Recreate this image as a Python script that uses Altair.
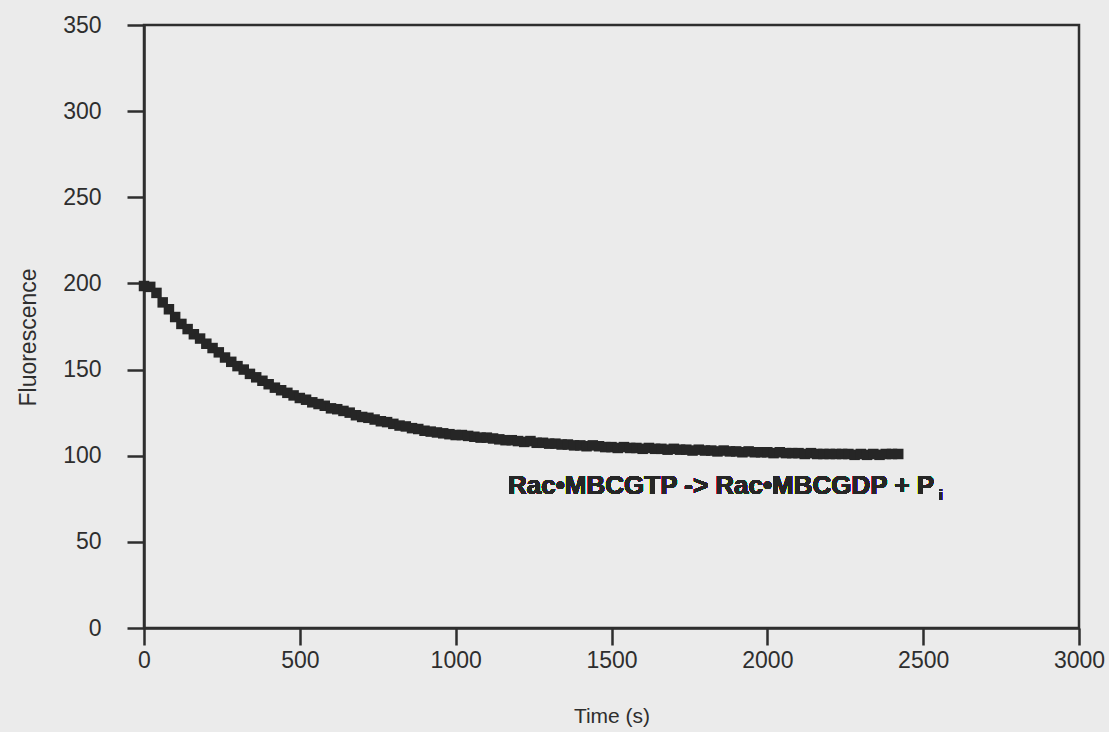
import altair as alt
import pandas as pd

# Sampling times (s)
time_s = list(range(0, 2421, 20))

# Fluorescence, one value per sampling time
fluorescence = [
    198.5, 198, 194.5, 189, 185, 180.5, 176.5, 173.5, 170.5, 168,
    165, 162.5, 160, 157, 154.5, 152, 150, 147.5, 145.5, 143.5,
    141.5, 139.5, 138, 136.5, 135, 133.5, 132.5, 131, 130, 129,
    127.5, 127, 126, 125, 123.5, 122.5, 122, 121, 120, 119.5,
    118.5, 117.5, 117, 116, 115.5, 114.5, 114, 113.5, 113, 112.5,
    112, 112, 111.5, 111, 110.5, 110.5, 110, 109.5, 109, 109,
    108.5, 108, 108.5, 107.5, 107.5, 107, 107, 106.5, 106.5, 106,
    106, 105.5, 106, 105.5, 105, 105, 104.5, 105, 104.5, 104.5,
    104, 104.5, 104, 104, 103.5, 104, 103.5, 103.5, 103, 103.5,
    103, 103, 102.5, 103, 102.5, 102.5, 102, 102.5, 102, 102,
    102, 101.5, 102, 101.5, 101.5, 101.5, 101, 101.5, 101, 101,
    101, 101, 101, 101, 100.5, 101, 100.5, 101, 100.5, 101,
    101, 101,
]

x_ticks = [0, 500, 1000, 1500, 2000, 2500, 3000]
y_ticks = [0, 50, 100, 150, 200, 250, 300, 350]

annotation_text = "Rac\u2022MBCGTP -> Rac\u2022MBCGDP + P"
annotation_sub = "i"

df = pd.DataFrame({"t": time_s, "f": fluorescence})

AX = "#2e2e2e"
FONT = "Liberation Sans"

x_axis = alt.Axis(
    values=x_ticks, grid=False, title="Time (s)", format="d",
    tickSize=17, tickWidth=2.5, tickColor=AX,
    domainColor=AX, domainWidth=2.5,
    labelFont=FONT, labelFontSize=23, labelColor=AX, labelPadding=4,
    labelFlush=False, labelOverlap=False,
    titleFont=FONT, titleFontSize=21, titleFontWeight="normal",
    titleColor=AX, titlePadding=33,
)
y_axis = alt.Axis(
    values=y_ticks, grid=False, title="Fluorescence", format="d",
    tickSize=17, tickWidth=2.5, tickColor=AX,
    domainColor=AX, domainWidth=2.5,
    labelFont=FONT, labelFontSize=23, labelColor=AX, labelPadding=26,
    labelFlush=False, labelOverlap=False,
    titleFont=FONT, titleFontSize=23, titleFontWeight="normal",
    titleColor=AX, titlePadding=22, titleY=312,
)

x_enc = alt.X("t:Q", scale=alt.Scale(domain=[0, 3000], nice=False), axis=x_axis)
y_enc = alt.Y("f:Q", scale=alt.Scale(domain=[0, 350], nice=False), axis=y_axis)

points = alt.Chart(df).mark_point(
    shape="square", filled=True, size=110, color="#262626", opacity=1
).encode(x=x_enc, y=y_enc)

label = alt.Chart(df).mark_text(
    align="left", baseline="alphabetic", font=FONT, fontSize=26,
    fontWeight="bold", color="#262626"
).encode(x=alt.datum(1168), y=alt.datum(77.5), text=alt.value(annotation_text))

sub = alt.Chart(df).mark_text(
    align="left", baseline="alphabetic", font=FONT, fontSize=15,
    fontWeight="bold", color="#262626"
).encode(x=alt.datum(2550), y=alt.datum(74.5), text=alt.value(annotation_sub))

chart = alt.layer(points, label, sub).properties(
    width=935, height=603,
    autosize=alt.AutoSizeParams(type="none"),
    padding={"left": 144, "top": 25, "right": 30, "bottom": 104},
    background="#ebebeb",
).configure_view(stroke=AX, strokeWidth=2.5)

chart.save("out.html", embed_options={"renderer": "svg", "actions": False})
